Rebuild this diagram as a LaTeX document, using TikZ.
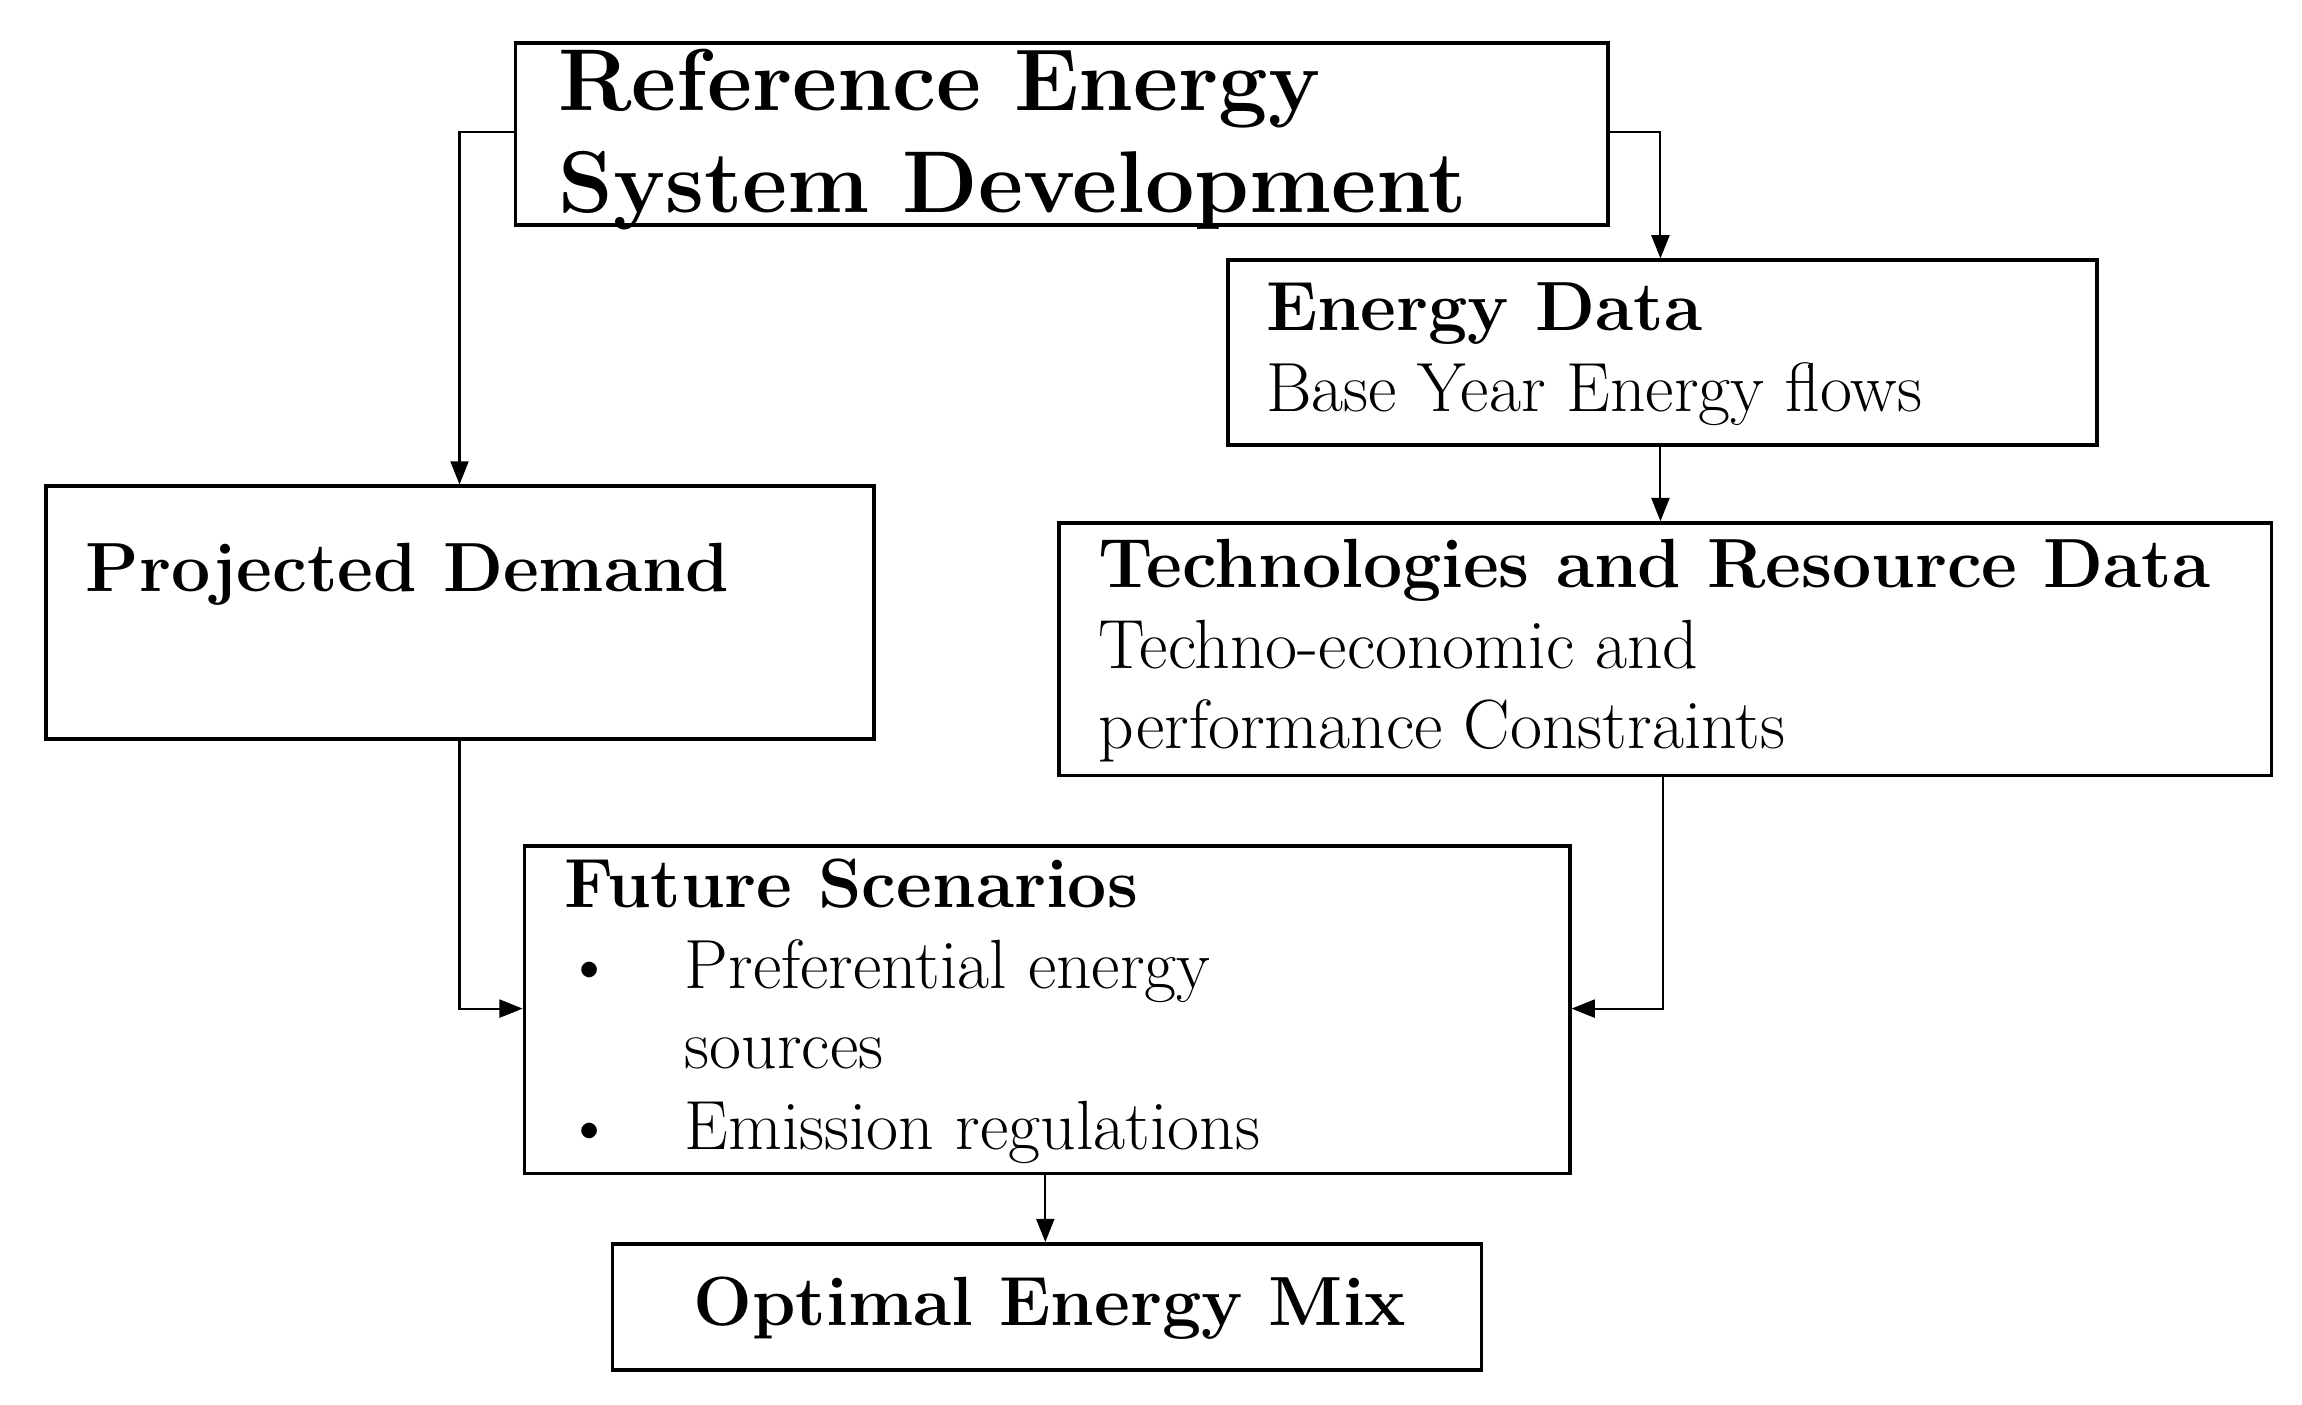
\documentclass[tikz,border=0pt]{standalone}
\usetikzlibrary{arrows.meta}
\begin{document}
\begin{tikzpicture}[x=0.02cm,y=-0.02cm,
  box/.style={draw,line width=1.4pt},
  link/.style={draw,line width=0.8pt,-{Triangle[length=9pt,width=7pt]}},
  txt/.style={anchor=base west,inner sep=0pt,font=\fontsize{27}{32}\selectfont},
  btxt/.style={txt,font=\fontsize{27}{32}\selectfont\bfseries},
  ttl/.style={txt,font=\fontsize{34}{40}\selectfont\bfseries}]
\useasboundingbox (0,0) rectangle (1568,957);
\node[box,minimum width=744*0.02cm,minimum height=124*0.02cm,anchor=north west] (ref) at (350,28) {};
\node[box,minimum width=592*0.02cm,minimum height=126*0.02cm,anchor=north west] (ed) at (835,176) {};
\node[box,minimum width=564*0.02cm,minimum height=172*0.02cm,anchor=north west] (pd) at (30,330) {};
\node[box,minimum width=826*0.02cm,minimum height=172*0.02cm,anchor=north west] (tr) at (720,355) {};
\node[box,minimum width=712*0.02cm,minimum height=223*0.02cm,anchor=north west] (fs) at (356,575) {};
\node[box,minimum width=592*0.02cm,minimum height=86*0.02cm,anchor=north west] (om) at (416,846) {};
\node[ttl] (t1) at (380,75) {Reference Energy};
\node[ttl] (t2) at (380,145) {System Development};
\node[btxt] (t3) at (862,225) {Energy Data};
\node[txt] (t4) at (862,280) {Base Year Energy flows};
\node[btxt] (t5) at (58,403) {Projected Demand};
\node[btxt] (t6) at (748,400) {Technologies and Resource Data};
\node[txt] (t7) at (748,455) {Techno-economic and};
\node[txt] (t8) at (748,510) {performance Constraints};
\node[btxt] (t9) at (384,618) {Future Scenarios};
\node[txt] (b1) at (384,673) {\textbullet};
\node[txt] (t10) at (466,673) {Preferential energy};
\node[txt] (t11) at (466,728) {sources};
\node[txt] (b2) at (384,783) {\textbullet};
\node[txt] (t12) at (466,783) {Emission regulations};
\node[btxt] (t13) at (472,903) {Optimal Energy Mix};
\coordinate (c1) at (313,90);
\coordinate (c2) at (1131,90);
\draw[link] (ref.west|-c1) -| (pd.north-|c1);
\draw[link] (ref.east|-c2) -| (ed.north-|c2);
\draw[link] (ed.south-|c2) -- (tr.north-|c2);
\coordinate (c3) at (313,687);
\coordinate (c4) at (1133,687);
\draw[link] (pd.south-|c3) |- (fs.west|-c3);
\draw[link] (tr.south-|c4) |- (fs.east|-c4);
\coordinate (c5) at (712,800);
\draw[link] (fs.south-|c5) -- (om.north-|c5);
\end{tikzpicture}
\end{document}
